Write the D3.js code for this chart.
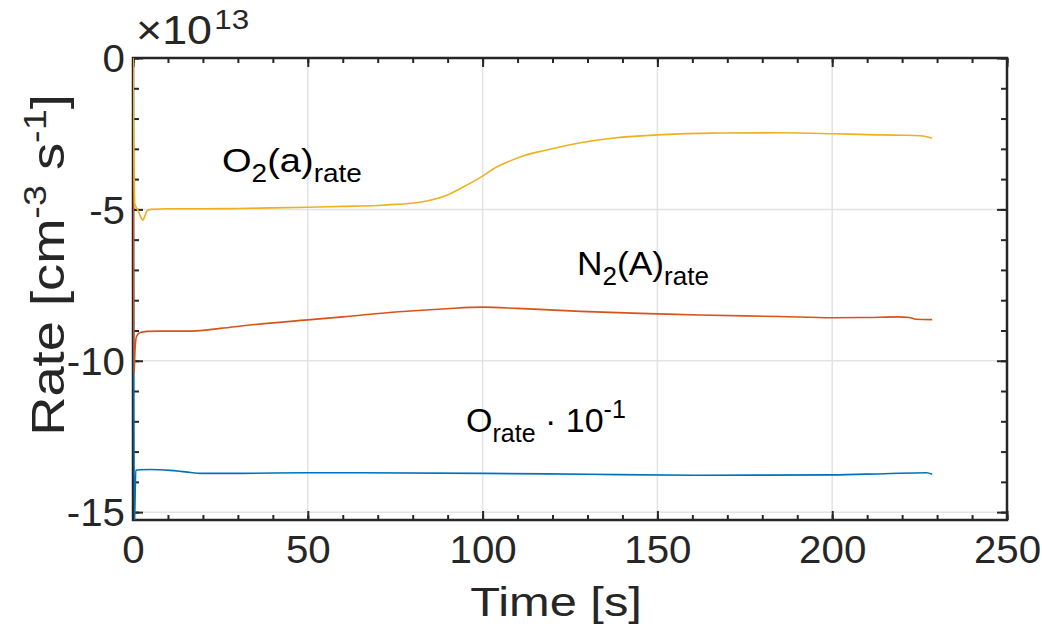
<!DOCTYPE html>
<html>
<head>
<meta charset="utf-8">
<script src="https://cdn.jsdelivr.net/npm/d3@7/dist/d3.min.js"></script>
<style>
  html, body { margin: 0; padding: 0; background: #fff; }
  svg text { font-family: "Liberation Sans", Arial, Helvetica, sans-serif; fill: #262626; }
</style>
</head>
<body>
<svg id="chart" width="1042" height="630"></svg>
<script>
// ---- data (values in units of 1e13 cm^-3 s^-1) ----
const o2aTime = [0, 0.5, 1.5, 2.2, 2.8, 3.3, 4, 5, 10, 20, 30, 40, 50, 60, 70, 76, 80, 85, 89.6, 94.3, 100, 104, 107, 112, 118, 128, 137, 150, 166, 185, 200, 210, 220, 225, 227, 228.6];
const o2aRate = [0, -4.8, -5.05, -5.25, -5.36, -5.25, -5.05, -5.0, -4.98, -4.98, -4.97, -4.95, -4.93, -4.9, -4.87, -4.83, -4.8, -4.7, -4.54, -4.27, -3.9, -3.6, -3.44, -3.22, -3.05, -2.8, -2.65, -2.54, -2.48, -2.47, -2.5, -2.53, -2.55, -2.57, -2.6, -2.65];

const n2aTime = [0, 0.3, 0.6, 1, 2, 4, 8, 17, 25, 35, 50, 60, 76, 89.6, 100, 110, 128, 150, 162, 185, 200, 210, 219, 222, 224, 228.6];
const n2aRate = [0, -10.43, -9.6, -9.2, -9.07, -9.03, -9.02, -9.02, -8.93, -8.8, -8.65, -8.55, -8.38, -8.28, -8.23, -8.27, -8.37, -8.45, -8.49, -8.54, -8.58, -8.57, -8.55, -8.57, -8.63, -8.64];

const oTime = [0, 0.4, 0.8, 2, 4.9, 10.6, 15, 20, 30, 50, 100, 130, 162, 200, 215, 227, 228.6];
const oRate = [0, -15.5, -13.62, -13.6, -13.59, -13.62, -13.67, -13.72, -13.72, -13.70, -13.72, -13.75, -13.78, -13.77, -13.73, -13.70, -13.75];

const xTicks = [0, 50, 100, 150, 200, 250];
const yTicks = [0, -5, -10, -15];
const xMinorTicks = d3.range(0, 251, 10);
const yMinorTicks = d3.range(0, -16, -1);

const seriesColors = ["#0072BD", "#D95319", "#EDB120"];

// ---- layout ----
const svg = d3.select("#chart");
const L = 133, T = 58, R = 1007, B = 520;
const x = d3.scaleLinear().domain([0, 250]).range([L, R]);
const y = d3.scaleLinear().domain([-15.26, 0]).range([B, T]);

const axisColor = "#262626";
const gridColor = "#e3e3e3";

// grid
const g = svg.append("g");
g.selectAll("line.gx").data(xTicks).enter().append("line")
  .attr("x1", d => x(d)).attr("x2", d => x(d)).attr("y1", T).attr("y2", B)
  .attr("stroke", gridColor).attr("stroke-width", 1.5);
g.selectAll("line.gy").data(yTicks).enter().append("line")
  .attr("x1", L).attr("x2", R).attr("y1", d => y(d)).attr("y2", d => y(d))
  .attr("stroke", gridColor).attr("stroke-width", 1.5);

// axes (ticks inward, mirrored)
function drawAxis(axisGen, tx, ty) {
  const a = svg.append("g").attr("transform", `translate(${tx},${ty})`).call(axisGen);
  a.select(".domain").remove();
  a.selectAll("line").attr("stroke", axisColor).attr("stroke-width", 2);
  return a;
}
drawAxis(d3.axisBottom(x).tickValues(xMinorTicks).tickSize(-5).tickFormat(""), 0, B);
drawAxis(d3.axisTop(x).tickValues(xMinorTicks).tickSize(-5).tickFormat(""), 0, T);
drawAxis(d3.axisLeft(y).tickValues(yMinorTicks).tickSize(-6).tickFormat(""), L, 0);
drawAxis(d3.axisRight(y).tickValues(yMinorTicks).tickSize(-6).tickFormat(""), R, 0);
const xb = drawAxis(d3.axisBottom(x).tickValues(xTicks).tickSize(-9).tickFormat(d3.format("d")), 0, B);
drawAxis(d3.axisTop(x).tickValues(xTicks).tickSize(-9).tickFormat(""), 0, T);
const yl = drawAxis(d3.axisLeft(y).tickValues(yTicks).tickSize(-10).tickFormat(d => d === 0 ? "0" : "-" + Math.abs(d)), L, 0);
drawAxis(d3.axisRight(y).tickValues(yTicks).tickSize(-10).tickFormat(""), R, 0);
xb.selectAll("text").attr("font-size", 38).attr("fill", axisColor)
  .attr("y", 0).attr("dy", 0)
  .attr("transform", "translate(0,43) scale(1.06,1)");
yl.selectAll("text").attr("font-size", 38).attr("fill", axisColor)
  .attr("x", 0).attr("dy", "0.36em")
  .attr("transform", "translate(-8,0) scale(1.06,1)");

// box
svg.append("rect").attr("x", L).attr("y", T).attr("width", R - L).attr("height", B - T)
  .attr("fill", "none").attr("stroke", axisColor).attr("stroke-width", 2.5);

// data lines
svg.append("clipPath").attr("id", "clip").append("rect")
  .attr("x", L).attr("y", T).attr("width", R - L).attr("height", B - T);
const line = d3.line().x(d => x(d[0])).y(d => y(d[1])).curve(d3.curveMonotoneX);
const series = [
  d3.zip(oTime, oRate),
  d3.zip(n2aTime, n2aRate),
  d3.zip(o2aTime, o2aRate)
];
svg.append("g").attr("clip-path", "url(#clip)")
  .selectAll("path").data(series).enter().append("path")
  .attr("d", line).attr("fill", "none")
  .attr("stroke", (d, i) => seriesColors[i]).attr("stroke-width", 1.6)
  .attr("stroke-linejoin", "round");

// exponent label
const ex = svg.append("text").attr("transform", "translate(136,44) scale(1.12,1)").attr("font-size", 40);
ex.append("tspan").text("×10");
ex.append("tspan").attr("font-size", 28).attr("dx", 2).attr("dy", -15).text("13");

// axis labels
svg.append("text").attr("transform", "translate(556,616) scale(1.22,1)").attr("text-anchor", "middle")
  .attr("font-size", 40).text("Time [s]");
const yLab = svg.append("text").attr("transform", "translate(64,265) rotate(-90) scale(1.18,1)")
  .attr("text-anchor", "middle").attr("font-size", 46);
yLab.append("tspan").text("Rate [cm");
yLab.append("tspan").attr("font-size", 32).attr("dy", -18).text("-3");
yLab.append("tspan").attr("dy", 18).text(" s");
yLab.append("tspan").attr("font-size", 32).attr("dy", -18).text("-1");
yLab.append("tspan").attr("dy", 18).text("]");

// annotations
function ann(px, py, sx, parts) {
  const t = svg.append("text").attr("transform", `translate(${px},${py}) scale(${sx},1)`)
    .attr("font-size", 34).attr("fill", "#000");
  let cur = 0;
  parts.forEach(p => {
    const off = p.sub ? 10 : p.sup ? -14 : 0;
    t.append("tspan").attr("font-size", p.sub || p.sup ? 25 : 34)
      .attr("dy", off - cur).style("fill", "#000").text(p.s);
    cur = off;
  });
}
ann(222, 172, 1.12, [{s: "O"}, {s: "2", sub: true}, {s: "(a)"}, {s: "rate", sub: true}]);
ann(577, 275, 1.04, [{s: "N"}, {s: "2", sub: true}, {s: "(A)"}, {s: "rate", sub: true}]);
ann(466, 432, 1.0, [{s: "O"}, {s: "rate", sub: true}, {s: " · 10"}, {s: "-1", sup: true}]);
</script>
</body>
</html>
